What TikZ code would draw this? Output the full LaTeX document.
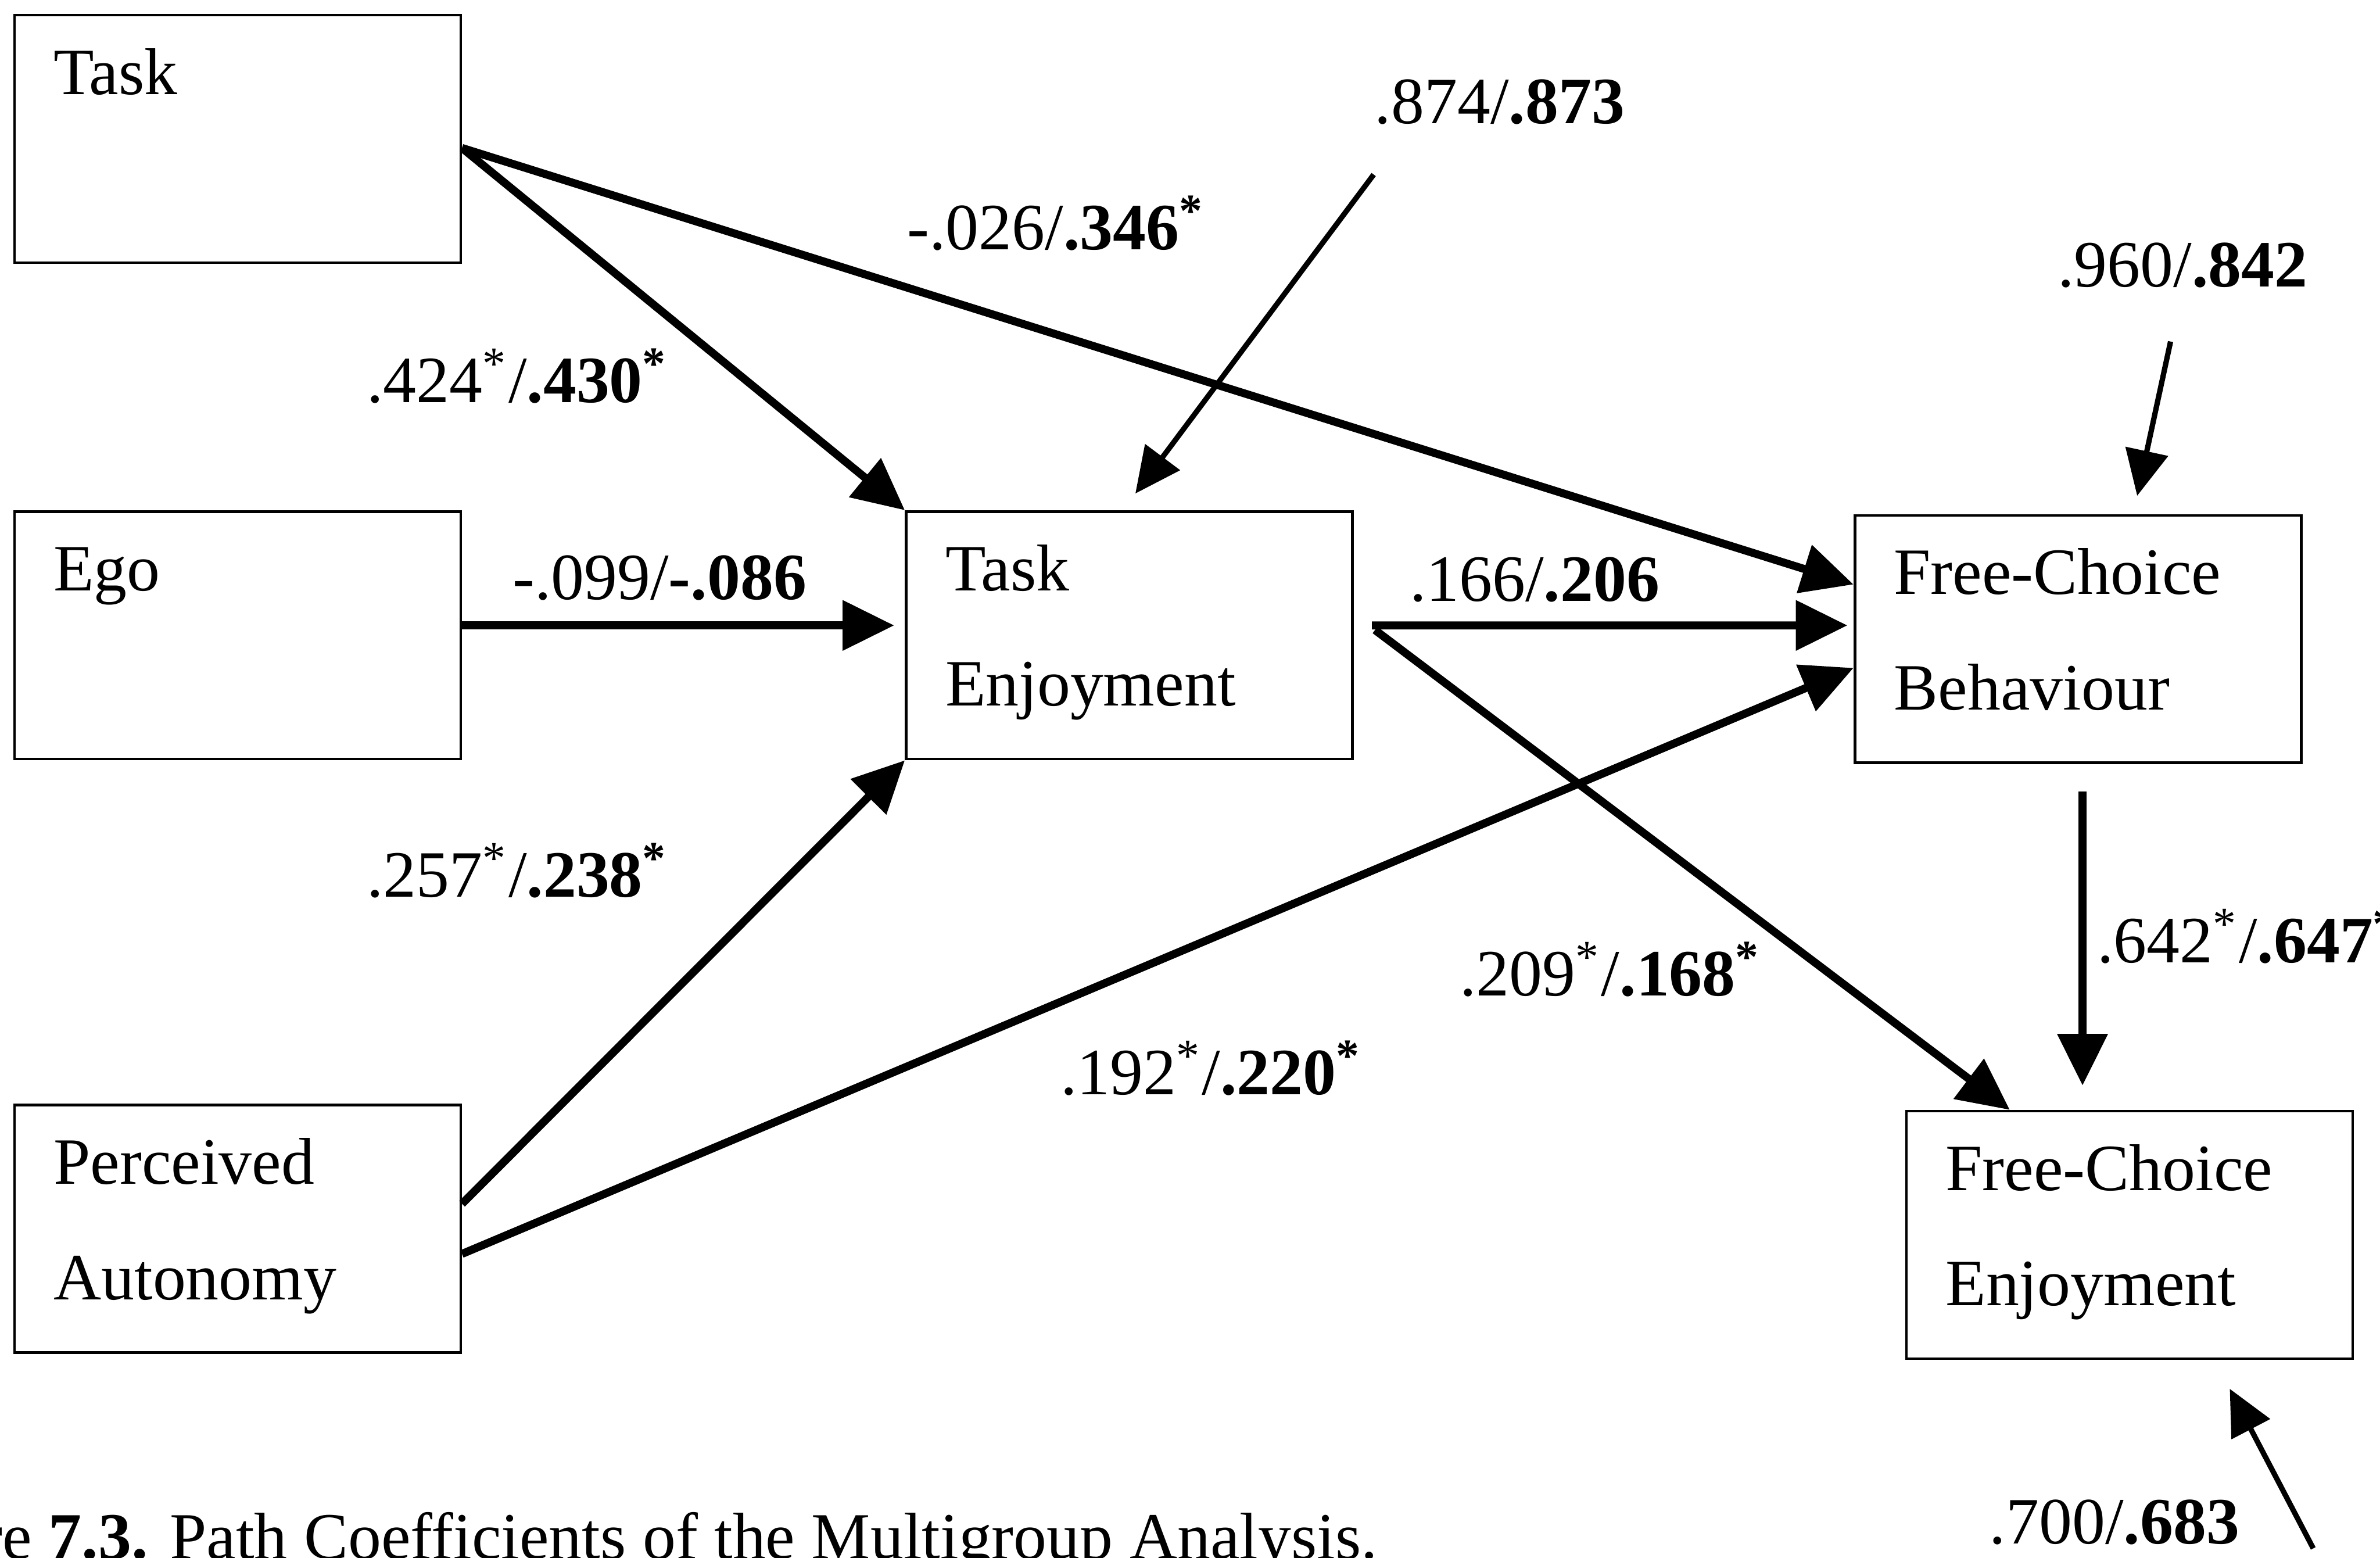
\documentclass[tikz,border=0pt]{standalone}
\usepackage{fontspec}
\setmainfont{Liberation Serif}
\usepackage{tikz}
\usetikzlibrary{arrows.meta}

\newcommand{\boxlines}[2]{\begin{tabular}[t]{@{}l@{}}#1\\#2\end{tabular}}

\begin{document}
\begin{tikzpicture}[
  box/.style={draw, line width=0.5pt, minimum width=2.94cm, minimum height=1.63cm, inner sep=0pt},
  boxtext/.style={anchor=base west, inner sep=0pt, font=\fontsize{12.4}{21.6}\selectfont},
  coef/.style={anchor=base west, inner sep=0pt, font=\fontsize{12.4}{15}\selectfont},
  conn/.style={line width=1.5pt, -{Triangle[length=3.4mm,width=3.2mm]}},
  err/.style={line width=1pt, -{Triangle[length=3mm,width=2.8mm]}}]
\useasboundingbox (0,0) rectangle (15.68,-10.26);

% boxes
\node[box] (task) at (1.565,-0.915) {};
\node[box] (ego) at (1.565,-4.185) {};
\node[box] (pa) at (1.565,-8.095) {};
\node[box] (te) at (7.44,-4.185) {};
\node[box] (fcb) at (13.69,-4.21) {};
\node[box] (fce) at (14.03,-8.135) {};

\node[boxtext] (tasktxt) at ([xshift=0.26cm,yshift=-0.53cm]task.north west) {Task};
\node[boxtext] (egotxt) at ([xshift=0.26cm,yshift=-0.53cm]ego.north west) {Ego};
\node[boxtext] (patxt) at ([xshift=0.26cm,yshift=-0.53cm]pa.north west) {\boxlines{Perceived}{Autonomy}};
\node[boxtext] (tetxt) at ([xshift=0.26cm,yshift=-0.53cm]te.north west) {\boxlines{Task}{Enjoyment}};
\node[boxtext] (fcbtxt) at ([xshift=0.26cm,yshift=-0.53cm]fcb.north west) {\boxlines{Free-Choice}{Behaviour}};
\node[boxtext] (fcetxt) at ([xshift=0.26cm,yshift=-0.53cm]fce.north west) {\boxlines{Free-Choice}{Enjoyment}};

% paths
\draw[conn] ([yshift=-0.06cm]task.east) -- (te.north west);
\draw[conn] ([yshift=-0.06cm]task.east) -- ([yshift=0.36cm]fcb.west);
\draw[conn, shorten >=0.07cm] ([yshift=0.065cm]ego.east) -- ([yshift=0.065cm]te.west);
\draw[conn, shorten >=0.04cm] ([xshift=0.12cm,yshift=0.065cm]te.east) -- ([yshift=0.09cm]fcb.west);
\draw[conn] ([xshift=0.14cm,yshift=0.035cm]te.east) -- ([xshift=0.69cm]fce.north west);
\draw[conn] ([yshift=0.165cm]pa.east) -- (te.south west);
\draw[conn] ([yshift=-0.165cm]pa.east) -- ([yshift=-0.19cm]fcb.west);
\draw[conn, line width=1.6pt] ([xshift=0.03cm,yshift=-0.18cm]fcb.south) -- ([xshift=-0.31cm,yshift=0.16cm]fce.north);

% residuals
\coordinate (e1) at (9.05,-1.15);
\coordinate (e2) at (14.30,-2.25);
\coordinate (e3) at (15.24,-10.20);
\draw[err] (e1) -- ([xshift=0.04cm,yshift=0.11cm]te.north);
\draw[err] (e2) -- ([xshift=0.39cm,yshift=0.12cm]fcb.north);
\draw[err] (e3) -- ([xshift=0.66cm,yshift=-0.19cm]fce.south);

% coefficients
\node[coef] (r1) at (9.05,-0.815) {.874/\textbf{.873}};
\node[coef] (c2) at (5.97,-1.645) {-.026/\textbf{.346\textsuperscript{*}}};
\node[coef] (r2) at (13.55,-1.89) {.960/\textbf{.842}};
\node[coef] (c1) at (2.41,-2.65) {.424\textsuperscript{*}/\textbf{.430\textsuperscript{*}}};
\node[coef] (c3) at (3.37,-3.95) {-.099/\textbf{-.086}};
\node[coef] (c6) at (9.28,-3.96) {.166/\textbf{.206}};
\node[coef] (c4) at (2.41,-5.91) {.257\textsuperscript{*}/\textbf{.238\textsuperscript{*}}};
\node[coef] (c8) at (13.81,-6.34) {.642\textsuperscript{*}/\textbf{.647\textsuperscript{*}}};
\node[coef] (c7) at (9.61,-6.56) {.209\textsuperscript{*}/\textbf{.168\textsuperscript{*}}};
\node[coef] (c5) at (6.98,-7.21) {.192\textsuperscript{*}/\textbf{.220\textsuperscript{*}}};
\node[coef] (r3) at (13.10,-10.17) {.700/\textbf{.683}};

\node[coef] (caption) at (-0.134,-10.27) {re \textbf{7.3.} Path Coefficients of the Multigroup Analysis.};
\end{tikzpicture}
\end{document}
